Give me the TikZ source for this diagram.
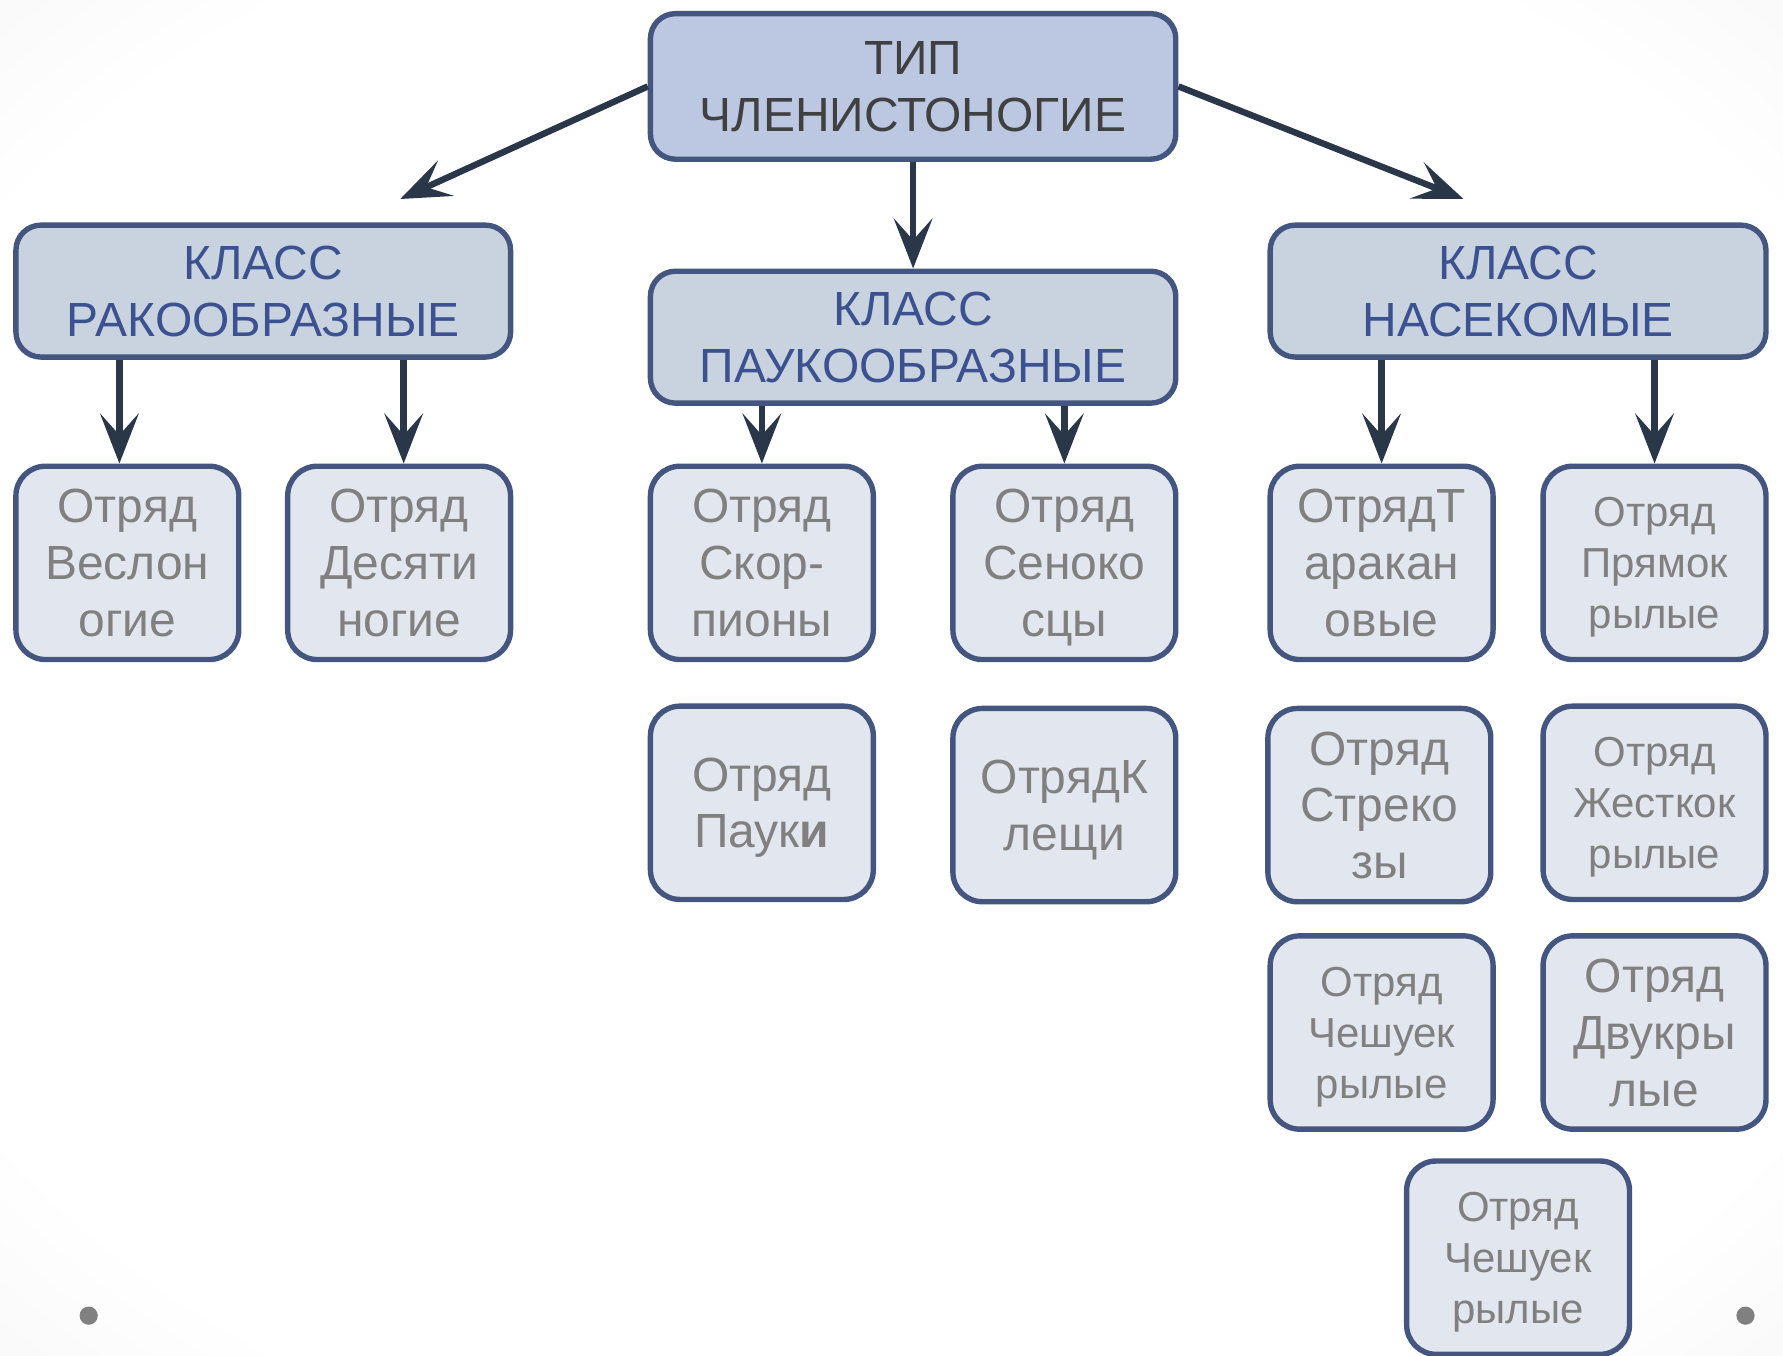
\documentclass[tikz,border=0pt]{standalone}
\usepackage{fontspec}
\setmainfont{Liberation Sans}
\usetikzlibrary{arrows.meta}
\definecolor{typefill}{RGB}{188,200,226}
\definecolor{classfill}{RGB}{201,211,224}
\definecolor{orderfill}{RGB}{226,231,239}
\definecolor{boxborder}{RGB}{68,86,128}
\definecolor{arrowcol}{RGB}{42,55,73}
\definecolor{typetext}{RGB}{64,64,64}
\definecolor{classtext}{RGB}{60,81,144}
\definecolor{ordertext}{RGB}{128,128,128}
\pgfdeclareradialshading{bgshade}{\pgfpoint{0bp}{0bp}}{color(0bp)=(white); color(30bp)=(white); color(50bp)=(black!8); color(72bp)=(black!15)}
\begin{document}
\begin{tikzpicture}
[typedecorate/.style={shape=rectangle,rounded corners=0.22cm,draw=boxborder,line width=1.35pt,fill=typefill,text=typetext,align=center,font=\fontsize{12}{14.2}\selectfont,minimum width=4.62cm,minimum height=1.28cm,text depth=0pt},%
  classdecorate/.style={typedecorate,fill=classfill,text=classtext,minimum height=1.16cm},%
  orderdecorate/.style={typedecorate,rounded corners=0.26cm,fill=orderfill,text=ordertext,minimum width=1.96cm,minimum height=1.70cm},%
  smalldecorate/.style={orderdecorate,font=\fontsize{10.5}{12.8}\selectfont},%
  arrowdecorate/.style={-{Stealth[length=0.44cm,width=0.34cm,inset=0.19cm]},draw=arrowcol,line width=1.6pt}]
% background
\useasboundingbox (0,0) rectangle (15.68,-11.92);
\shade[shading=bgshade] (0,0) rectangle (15.68,-11.92);
\fill[ordertext] (0.78,-11.57) circle (0.08);
\fill[ordertext] (15.35,-11.57) circle (0.08);
% type and classes
\node (tip) at (8.03,-0.76) [typedecorate] {ТИП\\ЧЛЕНИСТОНОГИЕ};
\node (rak) at (2.315,-2.56) [classdecorate,minimum width=4.35cm] {КЛАСС\\РАКООБРАЗНЫЕ};
\node (pauk) at (8.03,-2.965) [classdecorate] {КЛАСС\\ПАУКООБРАЗНЫЕ};
\node (nasek) at (13.35,-2.56) [classdecorate,minimum width=4.36cm] {КЛАСС\\НАСЕКОМЫЕ};
\coordinate (rakend) at (3.52,-1.75);
\coordinate (nasekend) at (12.87,-1.75);
% orders
\node (ves) at (1.12,-4.95) [orderdecorate] {Отряд\\Веслон\\огие};
\node (desyat) at (3.51,-4.95) [orderdecorate] {Отряд\\Десяти\\ногие};
\node (skorp) at (6.70,-4.95) [orderdecorate] {Отряд\\Скор-\\пионы};
\node (senok) at (9.36,-4.95) [orderdecorate] {Отряд\\Сеноко\\сцы};
\node (tarak) at (12.15,-4.95) [orderdecorate] {ОтрядТ\\аракан\\овые};
\node (pryam) at (14.55,-4.95) [smalldecorate] {Отряд\\Прямок\\рылые};
\node (pauki) at (6.70,-7.06) [orderdecorate] {Отряд\\Паук{\bfseries и}};
\node (kleshch) at (9.36,-7.08) [orderdecorate] {ОтрядК\\лещи};
\node (strek) at (12.13,-7.08) [orderdecorate] {Отряд\\Стреко\\зы};
\node (zhestk) at (14.55,-7.06) [smalldecorate] {Отряд\\Жесткок\\рылые};
\node (chesha) at (12.15,-9.08) [smalldecorate] {Отряд\\Чешуек\\рылые};
\node (dvukr) at (14.55,-9.08) [orderdecorate] {Отряд\\Двукры\\лые};
\node (cheshb) at (13.35,-11.06) [smalldecorate] {Отряд\\Чешуек\\рылые};
% arrows
\path
(tip.west) edge[arrowdecorate] (rakend)
(tip.east) edge[arrowdecorate] (nasekend)
(tip) edge[arrowdecorate] (pauk)
([xshift=-0.07cm]ves.north |- rak.south) edge[arrowdecorate] ([xshift=-0.07cm]ves.north)
([xshift=0.04cm]desyat.north |- rak.south) edge[arrowdecorate] ([xshift=0.04cm]desyat.north)
(skorp.north |- pauk.south) edge[arrowdecorate] (skorp)
(senok.north |- pauk.south) edge[arrowdecorate] (senok)
(tarak.north |- nasek.south) edge[arrowdecorate] (tarak)
(pryam.north |- nasek.south) edge[arrowdecorate] (pryam);
\end{tikzpicture}
\end{document}
